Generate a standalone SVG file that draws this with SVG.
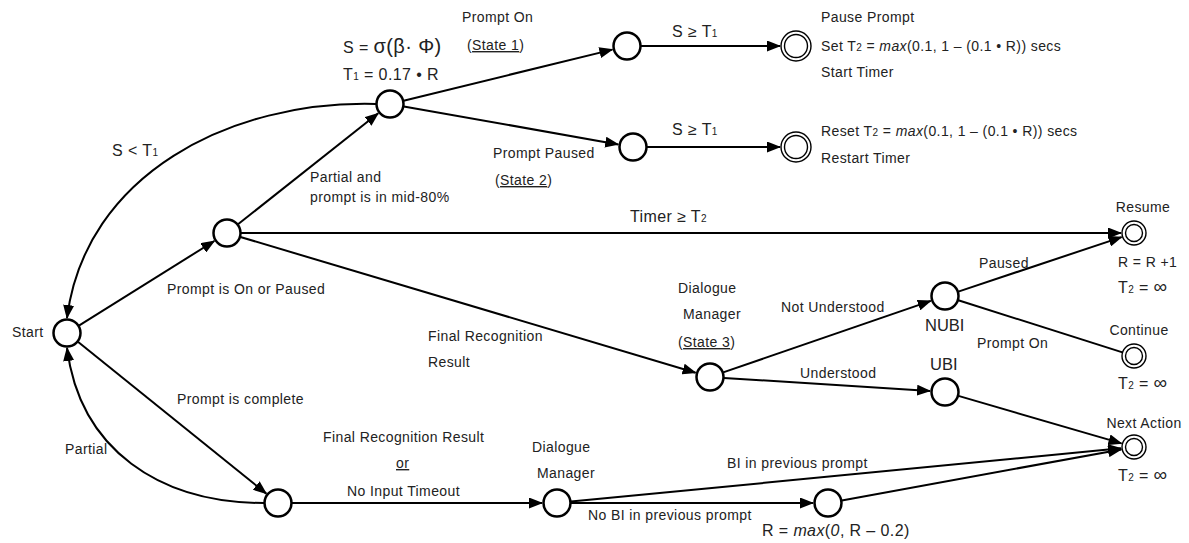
<svg xmlns="http://www.w3.org/2000/svg" width="1189" height="543" viewBox="0 0 1189 543">
<style>
text{font-family:"Liberation Sans",Arial,sans-serif;font-size:14px;letter-spacing:0.4px;fill:#222}
.big{font-size:16.5px;letter-spacing:0}
.m{font-size:16px}
.sub{font-size:10px}
.st{fill:#fff;stroke:#000;stroke-width:2.5}
.fin{fill:#fff;stroke:#000;stroke-width:1.4}
.e{fill:none;stroke:#000;stroke-width:2}
.u{text-decoration:underline}
</style>
<defs>
<marker id="ah" markerUnits="userSpaceOnUse" markerWidth="14" markerHeight="11" refX="13" refY="5.5" orient="auto">
<path d="M0,0 L14,5.5 L0,11 z" fill="#000"/>
</marker>
</defs>
<g id="connectors">
<line class="e" x1="78.9" y1="325.6" x2="214.3" y2="241" marker-end="url(#ah)"/>
<line class="e" x1="77.9" y1="341.8" x2="266.3" y2="493.6" marker-end="url(#ah)"/>
<path class="e" d="M264,503 C160,503 80,450 67,348" marker-end="url(#ah)"/>
<path class="e" d="M376,104 C230,100 85,175 67,318" marker-end="url(#ah)"/>
<line class="e" x1="238" y1="224.3" x2="378.2" y2="113.3" marker-end="url(#ah)"/>
<line class="e" x1="403.6" y1="100.7" x2="612.4" y2="49.6" marker-end="url(#ah)"/>
<line class="e" x1="403.8" y1="106.4" x2="618.2" y2="144.4" marker-end="url(#ah)"/>
<line class="e" x1="641" y1="46" x2="780" y2="46" marker-end="url(#ah)"/>
<line class="e" x1="647" y1="147" x2="780" y2="147" marker-end="url(#ah)"/>
<line class="e" x1="241" y1="233" x2="1121" y2="233" marker-end="url(#ah)"/>
<line class="e" x1="240.4" y1="237" x2="695.6" y2="372.7" marker-end="url(#ah)"/>
<line class="e" x1="723.2" y1="372.4" x2="930.8" y2="300.9" marker-end="url(#ah)"/>
<line class="e" x1="724" y1="377.9" x2="930" y2="391" marker-end="url(#ah)"/>
<line class="e" x1="958.3" y1="291.6" x2="1121.6" y2="237.1" marker-end="url(#ah)"/>
<line class="e" x1="958.3" y1="300.2" x2="1122.5" y2="352.4"/>
<line class="e" x1="958.4" y1="395.9" x2="1121.5" y2="443.4" marker-end="url(#ah)"/>
<line class="e" x1="292" y1="503" x2="542" y2="503" marker-end="url(#ah)"/>
<line class="e" x1="571" y1="501.6" x2="1121" y2="448.3" marker-end="url(#ah)"/>
<line class="e" x1="571" y1="503" x2="813" y2="503" marker-end="url(#ah)"/>
<line class="e" x1="841.8" y1="500.5" x2="1121.2" y2="449.4" marker-end="url(#ah)"/>
</g>
<g id="start"><circle class="st" cx="67" cy="333" r="13.5"/><text x="12" y="337">Start</text></g>
<g id="n1"><circle class="st" cx="227" cy="233" r="13.5"/></g>
<g id="n2"><circle class="st" cx="390" cy="104" r="13.5"/>
<text x="343" y="53" class="m">S = <tspan font-size="20">σ(β· Φ)</tspan></text>
<text x="343" y="80" class="m">T<tspan class="sub">1</tspan> = 0.17 • R</text></g>
<g id="pon"><circle class="st" cx="627" cy="46" r="13.5"/></g>
<g id="ppa"><circle class="st" cx="633" cy="147" r="13.5"/></g>
<g id="fpause"><circle class="fin" cx="796" cy="46" r="15"/><circle class="fin" cx="796" cy="46" r="11.5"/>
<text x="821" y="22">Pause Prompt</text>
<text x="821" y="51">Set T<tspan class="sub">2</tspan> = <tspan font-style="italic">max</tspan>(0.1, 1 – (0.1 • R)) secs</text>
<text x="821" y="77">Start Timer</text></g>
<g id="freset"><circle class="fin" cx="796" cy="147" r="15"/><circle class="fin" cx="796" cy="147" r="11.5"/>
<text x="821" y="136">Reset T<tspan class="sub">2</tspan> = <tspan font-style="italic">max</tspan>(0.1, 1 – (0.1 • R)) secs</text>
<text x="821" y="163">Restart Timer</text></g>
<g id="resume"><circle class="fin" cx="1134" cy="233" r="12"/><circle class="fin" cx="1134" cy="233" r="8.5"/>
<text x="1143" y="212" text-anchor="middle">Resume</text>
<text x="1118" y="267" font-size="15" letter-spacing="0">R = R +1</text>
<text x="1118" y="293" class="m">T<tspan class="sub">2</tspan> = <tspan font-size="19">∞</tspan></text></g>
<g id="nubi"><circle class="st" cx="945" cy="296" r="13.5"/><text x="925" y="331" class="big">NUBI</text></g>
<g id="continue"><circle class="fin" cx="1134" cy="356" r="12"/><circle class="fin" cx="1134" cy="356" r="8.5"/>
<text x="1139" y="335" text-anchor="middle">Continue</text>
<text x="1118" y="389" class="m">T<tspan class="sub">2</tspan> = <tspan font-size="19">∞</tspan></text></g>
<g id="ubi"><circle class="st" cx="945" cy="392" r="13.5"/><text x="930" y="370" class="big">UBI</text></g>
<g id="next"><circle class="fin" cx="1134" cy="447" r="12"/><circle class="fin" cx="1134" cy="447" r="8.5"/>
<text x="1144" y="428" text-anchor="middle">Next Action</text>
<text x="1118" y="481" class="m">T<tspan class="sub">2</tspan> = <tspan font-size="19">∞</tspan></text></g>
<g id="dm3"><circle class="st" cx="710" cy="377" r="13.5"/>
<text x="678" y="293">Dialogue</text><text x="683" y="319">Manager</text>
<text x="678" y="347">(<tspan class="u">State 3</tspan>)</text></g>
<g id="bl"><circle class="st" cx="278" cy="503" r="13.5"/></g>
<g id="dmb"><circle class="st" cx="557" cy="503" r="13.5"/>
<text x="532" y="452">Dialogue</text><text x="537" y="478">Manager</text></g>
<g id="rnode"><circle class="st" cx="828" cy="503" r="13.5"/>
<text x="762" y="536" class="m" letter-spacing="0">R = <tspan font-style="italic">max</tspan>(<tspan font-style="italic">0</tspan>, R – 0.2)</text></g>
<g id="labels">
<text x="167" y="294">Prompt is On or Paused</text>
<text x="177" y="404">Prompt is complete</text>
<text x="65" y="454">Partial</text>
<text x="112" y="156" class="m">S &lt; T<tspan class="sub">1</tspan></text>
<text x="310" y="182">Partial and</text>
<text x="310" y="202">prompt is in mid-80%</text>
<text x="462" y="22">Prompt On</text>
<text x="467" y="50">(<tspan class="u">State 1</tspan>)</text>
<text x="672" y="37" class="m">S ≥ T<tspan class="sub">1</tspan></text>
<text x="672" y="135" class="m">S ≥ T<tspan class="sub">1</tspan></text>
<text x="493" y="158">Prompt Paused</text>
<text x="495" y="185">(<tspan class="u">State 2</tspan>)</text>
<text x="630" y="222" class="m">Timer ≥ T<tspan class="sub">2</tspan></text>
<text x="979" y="268">Paused</text>
<text x="781" y="312">Not Understood</text>
<text x="977" y="348">Prompt On</text>
<text x="800" y="378">Understood</text>
<text x="727" y="468">BI in previous prompt</text>
<text x="588" y="520">No BI in previous prompt</text>
<text x="323" y="442">Final Recognition Result</text>
<text x="396" y="468" class="u">or</text>
<text x="347" y="496">No Input Timeout</text>
<text x="428" y="341">Final Recognition</text>
<text x="428" y="367">Result</text>
</g>
</svg>
